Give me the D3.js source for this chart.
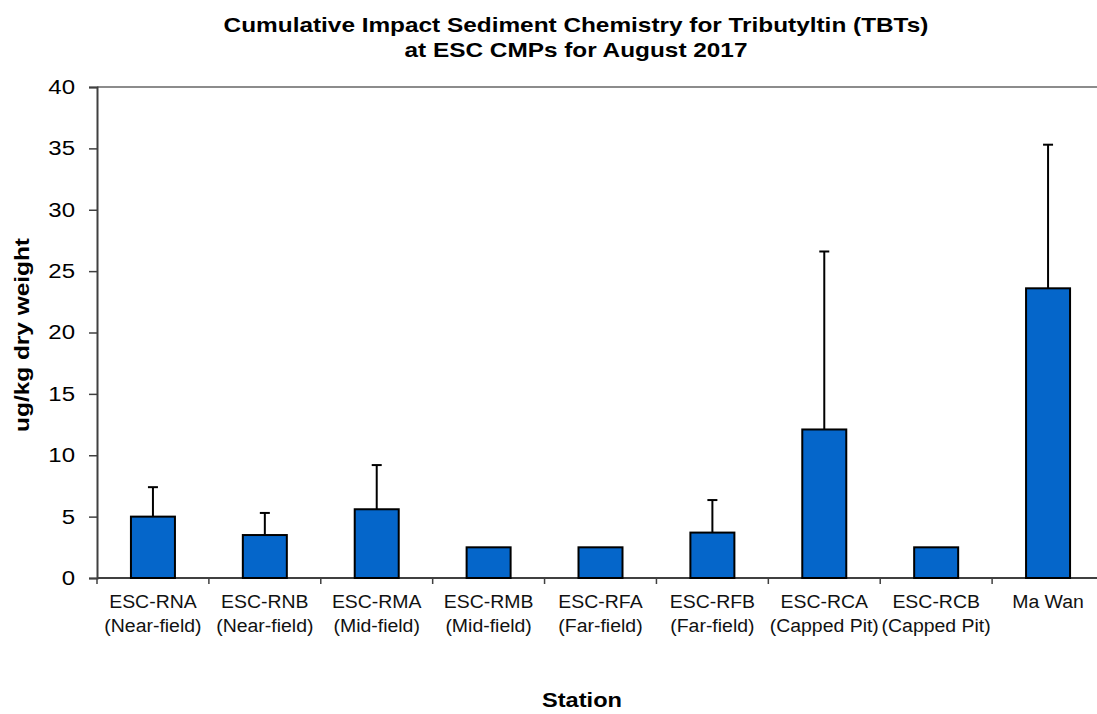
<!DOCTYPE html>
<html><head><meta charset="utf-8">
<script src="https://cdn.jsdelivr.net/npm/d3@7"></script>
<style>body{margin:0;background:#fff;}svg{display:block;font-family:Arial,"Liberation Sans",sans-serif;}</style>
</head><body><svg id="c" width="1097" height="714"></svg>
<script>
const stations = ["ESC-RNA","ESC-RNB","ESC-RMA","ESC-RMB","ESC-RFA","ESC-RFB","ESC-RCA","ESC-RCB","Ma Wan"];
const subLabels = ["(Near-field)","(Near-field)","(Mid-field)","(Mid-field)","(Far-field)","(Far-field)","(Capped Pit)","(Capped Pit)",""];
const means = [5.0, 3.5, 5.6, 2.5, 2.5, 3.7, 12.1, 2.5, 23.6];
const errUpper = [7.4, 5.3, 9.2, null, null, 6.35, 26.6, null, 35.3];
const yTicks = [0,5,10,15,20,25,30,35,40];

const svg = d3.select("#c");
const L = 97, R = 1104, T = 87, B = 578;
const x = d3.scaleBand().domain(stations).range([L, R]).paddingInner(0).paddingOuter(0);
const y = d3.scaleLinear().domain([0, 40]).range([B, T]);

function stretch(sel, f) {
  sel.each(function() {
    const w = this.getComputedTextLength();
    if (w > 0) d3.select(this).attr("textLength", w * f).attr("lengthAdjust", "spacingAndGlyphs");
  });
}

// top gray line
svg.append("line").attr("x1", L).attr("x2", 1097).attr("y1", y(40)).attr("y2", y(40))
  .attr("stroke", "#8c8c8c").attr("stroke-width", 2);

// y axis
const ya = svg.append("g").attr("transform", `translate(${L},0)`)
  .call(d3.axisLeft(y).tickValues(yTicks).tickSize(8).tickPadding(14));
ya.select(".domain").attr("stroke", "#404040").attr("stroke-width", 2);
ya.selectAll(".tick line").attr("stroke", "#404040").attr("stroke-width", 1.5);
ya.selectAll(".tick text").attr("font-size", 20).attr("fill", "#000").attr("font-family", "Arial, Liberation Sans, sans-serif");
stretch(ya.selectAll(".tick text"), 1.2);

// x axis with ticks at band boundaries
const xa = svg.append("g").attr("transform", `translate(0,${B})`);
xa.append("line").attr("x1", L).attr("x2", 1097).attr("y1", 0).attr("y2", 0).attr("stroke", "#404040").attr("stroke-width", 2);
xa.selectAll("line.tk").data(stations).join("line").attr("class","tk")
  .attr("x1", d => x(d)).attr("x2", d => x(d)).attr("y1", 0).attr("y2", 6)
  .attr("stroke", "#404040").attr("stroke-width", 1.5);

// labels
const lab = svg.append("g");
stations.forEach((s, i) => {
  const cx = x(s) + x.bandwidth() / 2;
  lab.append("text").attr("x", cx).attr("y", 608).attr("text-anchor", "middle")
    .attr("font-size", 18).attr("fill", "#111").text(s);
  if (subLabels[i]) lab.append("text").attr("x", cx).attr("y", 632).attr("text-anchor", "middle")
    .attr("font-size", 18).attr("fill", "#111").text(subLabels[i]);
});
stretch(lab.selectAll("text"), 1.08);

// error bars (behind bars)
const bw = 44;
stations.forEach((s, i) => {
  if (errUpper[i] == null) return;
  const cx = x(s) + x.bandwidth() / 2;
  svg.append("line").attr("x1", cx).attr("x2", cx).attr("y1", y(means[i])).attr("y2", y(errUpper[i]))
    .attr("stroke", "#000").attr("stroke-width", 2);
  svg.append("line").attr("x1", cx - 5).attr("x2", cx + 5).attr("y1", y(errUpper[i])).attr("y2", y(errUpper[i]))
    .attr("stroke", "#000").attr("stroke-width", 2);
});

// bars
svg.selectAll("rect.bar").data(stations).join("rect").attr("class","bar")
  .attr("x", d => x(d) + x.bandwidth()/2 - bw/2)
  .attr("width", bw)
  .attr("y", (d,i) => y(means[i]))
  .attr("height", (d,i) => B - y(means[i]))
  .attr("fill", "#0566CA").attr("stroke", "#000").attr("stroke-width", 2);

// title
const t1 = svg.append("text").attr("x", 576).attr("y", 32).attr("text-anchor","middle").attr("font-size",21).attr("font-weight","bold")
  .text("Cumulative Impact Sediment Chemistry for Tributyltin (TBTs)");
const t2 = svg.append("text").attr("x", 576).attr("y", 57).attr("text-anchor","middle").attr("font-size",21).attr("font-weight","bold")
  .text("at ESC CMPs for August 2017");
stretch(t1, 1.16); stretch(t2, 1.16);

// axis titles
const yl = svg.append("text").attr("transform", "translate(29,335) rotate(-90)").attr("text-anchor","middle")
  .attr("font-size",20).attr("font-weight","bold").text("ug/kg dry weight");
stretch(yl, 1.22);
const xl = svg.append("text").attr("x", 582).attr("y", 707).attr("text-anchor","middle")
  .attr("font-size",20).attr("font-weight","bold").text("Station");
stretch(xl, 1.18);
</script></body></html>
